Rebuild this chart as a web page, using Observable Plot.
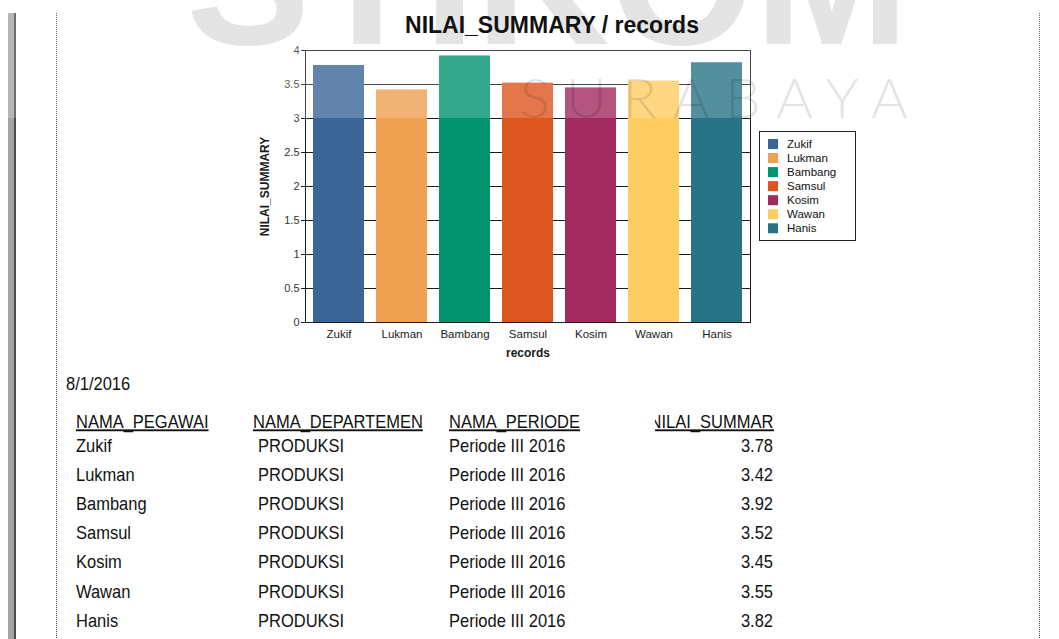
<!DOCTYPE html>
<html>
<head>
<meta charset="utf-8">
<script src="https://cdn.jsdelivr.net/npm/d3@7"></script>
<script src="https://cdn.jsdelivr.net/npm/@observablehq/plot@0.6"></script>
<style>
  body { margin: 0; background: #fff; }
  #page { position: relative; width: 1059px; height: 639px; overflow: hidden; background: #fff; }
  #page > * { position: absolute; left: 0; top: 0; }
</style>
</head>
<body>
<div id="page"></div>
<script>
// ---------- data ----------
const names = ["Zukif", "Lukman", "Bambang", "Samsul", "Kosim", "Wawan", "Hanis"];
const values = [3.78, 3.42, 3.92, 3.52, 3.45, 3.55, 3.82];
const colors = ["#3b6597", "#eea151", "#01936d", "#dc561f", "#a22a5f", "#fecd61", "#287386"];
const departments = ["PRODUKSI", "PRODUKSI", "PRODUKSI", "PRODUKSI", "PRODUKSI", "PRODUKSI", "PRODUKSI"];
const periods = ["Periode III 2016", "Periode III 2016", "Periode III 2016", "Periode III 2016", "Periode III 2016", "Periode III 2016", "Periode III 2016"];
const yTicks = [0, 0.5, 1, 1.5, 2, 2.5, 3, 3.5, 4];
const headers = ["NAMA_PEGAWAI", "NAMA_DEPARTEMEN", "NAMA_PERIODE", "NILAI_SUMMARY"];
const chartTitle = "NILAI_SUMMARY / records";
const yLabel = "NILAI_SUMMARY";
const xLabel = "records";
const reportDate = "8/1/2016";

const FONT = "'Liberation Sans', Arial, sans-serif";
const W = 1059, H = 639;
const page = d3.select("#page");

// ---------- background layer (page rules + big watermark) ----------
const bg = page.append("svg").attr("width", W).attr("height", H);
bg.append("text").attr("x", 186).attr("y", 44)
  .attr("font-family", FONT).attr("font-weight", "bold").attr("font-size", 186)
  .attr("fill", "#dedede").text("STIKOM");
bg.append("rect").attr("x", 8).attr("y", 13).attr("width", 6).attr("height", H - 13).attr("fill", "#a4a4a4");
bg.append("rect").attr("x", 14).attr("y", 13).attr("width", 2).attr("height", H - 13).attr("fill", "#4a4a4a");
for (const x of [56.5, 1039.5]) {
  bg.append("line").attr("x1", x).attr("x2", x).attr("y1", 13).attr("y2", H)
    .attr("stroke", "#444").attr("stroke-dasharray", "1,1");
}

// ---------- chart ----------
const data = names.map((n, i) => ({name: n, value: values[i]}));
const chart = Plot.plot({
  width: W, height: 365,
  marginLeft: 305, marginRight: 309, marginTop: 50, marginBottom: 43,
  style: {fontFamily: FONT, fontSize: "11px", color: "#1a1a1a", background: "transparent"},
  x: {domain: names, paddingInner: 0.19, paddingOuter: 0.095, label: null},
  y: {domain: [0, 4], ticks: yTicks, label: null},
  color: {domain: names, range: colors},
  marks: [
    Plot.gridY(yTicks, {stroke: "#1a1a1a", strokeOpacity: 1}),
    Plot.barY(data, {x: "name", y: "value", fill: "name"}),
    Plot.frame({stroke: "#1a1a1a"}),
    Plot.axisY(yTicks, {tickSize: 4, tickPadding: 2, stroke: "#1a1a1a", fill: "#333", fontSize: 11, tickFormat: d => String(d), label: null}),
    Plot.axisX({tickSize: 0, tickPadding: 7, fill: "#1a1a1a", fontSize: 11.5, label: null}),
    Plot.text([yLabel], {text: d => d, frameAnchor: "left", textAnchor: "middle", dx: -40, rotate: -90, fontWeight: "bold", fontSize: 12, fill: "#1a1a1a"}),
    Plot.text([xLabel], {text: d => d, frameAnchor: "bottom", dy: 34, fontWeight: "bold", fontSize: 12, fill: "#1a1a1a"})
  ]
});
page.node().appendChild(chart);

// ---------- legend + table layer ----------
const fg = page.append("svg").attr("width", W).attr("height", H)
  .attr("font-family", FONT);

// legend
const lg = fg.append("g");
lg.append("rect").attr("x", 759.5).attr("y", 131.5).attr("width", 96).attr("height", 109)
  .attr("fill", "#fff").attr("stroke", "#222");
names.forEach((n, i) => {
  const y0 = 139 + i * 14.05;
  lg.append("rect").attr("x", 768).attr("y", y0).attr("width", 10).attr("height", 10).attr("fill", colors[i]);
  lg.append("text").attr("x", 787).attr("y", y0 + 9).attr("font-size", 11.5).attr("fill", "#111").text(n);
});

// table
const FS = 16.5, SY = 1.13;
function cell(x, baseline, txt, anchor = "start", underline = false, clip = null) {
  const t = fg.append("text")
    .attr("transform", `translate(${x},${baseline}) scale(1,${SY})`)
    .attr("font-size", FS).attr("fill", "#111").attr("text-anchor", anchor)
    .text(txt);
  if (underline) t.style("text-decoration", "underline");
  if (clip) t.attr("clip-path", `url(#${clip})`);
  return t;
}
const defs = fg.append("defs");
defs.append("clipPath").attr("id", "clipDept").attr("clipPathUnits", "userSpaceOnUse")
  .append("rect").attr("x", -10).attr("y", -30).attr("width", 427 - 253 + 10).attr("height", 40);
defs.append("clipPath").attr("id", "clipVal").attr("clipPathUnits", "userSpaceOnUse")
  .append("rect").attr("x", 655 - 784).attr("y", -30).attr("width", 774 - 655).attr("height", 40);

cell(66, 390, reportDate);
const hb = 428.3;
cell(76, hb, headers[0], "start", true);
cell(253, hb, headers[1], "start", true, "clipDept");
cell(449, hb, headers[2], "start", true);
cell(784, hb, headers[3], "end", true, "clipVal");

names.forEach((n, i) => {
  const b = 452 + i * 29.1;
  cell(76, b, n);
  cell(258, b, departments[i]);
  cell(449, b, periods[i]);
  cell(773, b, values[i].toFixed(2), "end");
});

// ---------- overlay watermark (top band) ----------
const ov = page.append("svg").attr("width", W).attr("height", H).style("pointer-events", "none");
ov.append("rect").attr("x", 0).attr("y", 0).attr("width", W).attr("height", 118)
  .attr("fill", "#fff").attr("fill-opacity", 0.2);
ov.append("text").attr("x", 520).attr("y", 118)
  .attr("font-family", "Lato, 'DejaVu Sans', sans-serif").attr("font-weight", 300)
  .attr("font-size", 56).attr("letter-spacing", 16)
  .attr("fill", "#000").attr("fill-opacity", 0.11).text("SURABAYA");

// title on top
ov.append("text").attr("x", 552).attr("y", 33).attr("text-anchor", "middle")
  .attr("font-family", FONT).attr("font-weight", "bold").attr("font-size", 23)
  .attr("fill", "#111").text(chartTitle);
</script>
</body>
</html>
